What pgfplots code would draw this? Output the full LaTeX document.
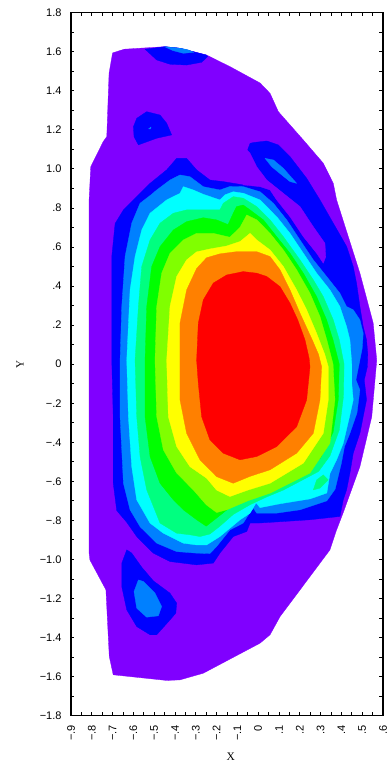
\documentclass[border=0pt]{standalone}
\usepackage{fontspec}
\setmainfont{Liberation Sans}
\newfontfamily\seriffont{Liberation Serif}
\usepackage{pgfplots}
\pgfplotsset{compat=1.18}
\definecolor{cPur}{RGB}{128,0,255}
\definecolor{cBlu}{RGB}{0,0,255}
\definecolor{cLbl}{RGB}{0,128,255}
\definecolor{cCya}{RGB}{0,255,255}
\definecolor{cSpr}{RGB}{0,255,128}
\definecolor{cGrn}{RGB}{0,255,0}
\definecolor{cCha}{RGB}{128,255,0}
\definecolor{cYel}{RGB}{255,255,0}
\definecolor{cOra}{RGB}{255,128,0}
\definecolor{cRed}{RGB}{255,0,0}
\pgfplotsset{cont/.style={draw=#1, line width=0.3pt, fill=#1, mark=none, line join=round}}
\begin{document}
\begin{tikzpicture}
\useasboundingbox (0,0) rectangle (388pt,764pt);
\begin{axis}[
  at={(71pt,48.4pt)}, anchor=south west,
  scale only axis, width=312pt, height=702.9pt,
  xmin=-0.9, xmax=0.6, ymin=-1.8, ymax=1.8,
  axis on top,
  axis line style={line width=1.1pt, black},
  tick align=inside,
  major tick length=3.5pt, minor tick length=3.5pt,
  every tick/.style={black, line width=0.8pt},
  xtick={-0.9,-0.8,-0.7,-0.6,-0.5,-0.4,-0.3,-0.2,-0.1,0,0.1,0.2,0.3,0.4,0.5,0.6},
  xticklabels={−.9,−.8,−.7,−.6,−.5,−.4,−.3,−.2,−.1,0,.1,.2,.3,.4,.5,.6},
  minor x tick num=1,
  ytick={-1.8,-1.6,-1.4,-1.2,-1.0,-0.8,-0.6,-0.4,-0.2,0,0.2,0.4,0.6,0.8,1.0,1.2,1.4,1.6,1.8},
  yticklabels={−1.8,−1.6,−1.4,−1.2,−1.0,−.8,−.6,−.4,−.2,0,.2,.4,.6,.8,1.0,1.2,1.4,1.6,1.8},
  minor y tick num=1,
  xticklabel style={font=\fontsize{11}{12}\selectfont, rotate=90, anchor=east},
  yticklabel style={font=\fontsize{11}{12}\selectfont},
  xticklabel shift=6pt, yticklabel shift=6pt,
  xlabel={X}, ylabel={Y},
  xlabel style={font=\seriffont\fontsize{11.5}{12}\selectfont, at={(axis description cs:0.512,-0.0589)}, anchor=center},
  ylabel style={font=\seriffont\fontsize{11}{12}\selectfont, at={(axis description cs:-0.163,0.5)}, anchor=center},
]
% outer purple region
\addplot[cont=cPur] coordinates {
(-0.70,1.594) (-0.644,1.613) (-0.448,1.626) (-0.376,1.618) (-0.248,1.583) (-0.136,1.524) (0.009,1.44) (0.057,1.387) (0.097,1.293) (0.217,1.148) (0.313,1.029) (0.361,0.926) (0.377,0.841) (0.489,0.466) (0.553,0.21) (0.57,0.02) (0.546,-0.269) (0.489,-0.525) (0.409,-0.76) (0.377,-0.849) (0.345,-0.951) (0.249,-1.088) (0.105,-1.293) (0.057,-1.386) (0.009,-1.429) (-0.264,-1.583) (-0.376,-1.617) (-0.44,-1.62) (-0.697,-1.591) (-0.716,-1.497) (-0.732,-1.156) (-0.809,-1.003) (-0.813,-0.968) (-0.813,0.841) (-0.805,1.011) (-0.745,1.14) (-0.728,1.165) (-0.717,1.49)
} -- cycle;
% blue main band with the upper right arm
\addplot[cont=cBlu] coordinates {
(-0.68,-0.75) (-0.697,-0.61) (-0.697,-0.27) (-0.704,0.02) (-0.704,0.55) (-0.688,0.72) (-0.648,0.79) (-0.584,0.858) (-0.52,0.926) (-0.44,0.995) (-0.392,1.054) (-0.344,1.054) (-0.296,0.995) (-0.232,0.943) (-0.168,0.935) (-0.072,0.918)
(-0.05,1.10) (-0.039,1.131) (-0.023,1.135) (0.041,1.143) (0.097,1.123) (0.153,1.063) (0.233,0.952) (0.297,0.841) (0.361,0.722) (0.425,0.603) (0.457,0.5) (0.473,0.414) (0.489,0.295) (0.505,0.192) (0.521,0.124) (0.527,0.05) (0.525,-0.013) (0.51,-0.081) (0.521,-0.183) (0.489,-0.354) (0.457,-0.456) (0.441,-0.558) (0.425,-0.644) (0.409,-0.695) (0.393,-0.78) (0.249,-0.797) (0.121,-0.806) (0.001,-0.814) (-0.039,-0.814) (-0.055,-0.857) (-0.12,-0.883) (-0.184,-0.968) (-0.216,-1.019) (-0.296,-1.028) (-0.424,-1.011) (-0.504,-0.968) (-0.584,-0.883) (-0.632,-0.81)
} -- cycle;
% blue blob at the top
\addplot[cont=cBlu] coordinates {
(-0.544,1.613) (-0.488,1.558) (-0.424,1.536) (-0.344,1.532) (-0.272,1.546) (-0.243,1.575) (-0.248,1.583) (-0.376,1.618) (-0.448,1.626)
} -- cycle;
% blue blob upper left
\addplot[cont=cBlu] coordinates {
(-0.6,1.216) (-0.584,1.259) (-0.536,1.293) (-0.472,1.276) (-0.44,1.234) (-0.416,1.174) (-0.488,1.157) (-0.576,1.123) (-0.597,1.165)
} -- cycle;
% blue blob lower left
\addplot[cont=cBlu] coordinates {
(-0.632,-0.951) (-0.608,-0.968) (-0.56,-1.04) (-0.504,-1.11) (-0.424,-1.173) (-0.392,-1.224) (-0.396,-1.275) (-0.424,-1.31) (-0.488,-1.386) (-0.52,-1.386) (-0.584,-1.344) (-0.632,-1.258) (-0.656,-1.139) (-0.656,-1.02)
} -- cycle;
% purple intrusion between the arm and the main band
\addplot[cont=cPur] coordinates {
(-0.085,0.96) (-0.065,1.11) (-0.039,1.08) (-0.007,1.011) (0.041,0.943) (0.121,0.875) (0.201,0.807) (0.265,0.704) (0.321,0.619) (0.325,0.55) (0.313,0.517) (0.281,0.568) (0.217,0.653) (0.153,0.755) (0.089,0.841) (0.057,0.892) (0.009,0.909) (-0.072,0.918)
} -- cycle;
% light blue spots
\addplot[cont=cLbl] coordinates {
(-0.45,1.626) (-0.41,1.606) (-0.36,1.592) (-0.31,1.597) (-0.34,1.611) (-0.376,1.618)
} -- cycle;
\addplot[cont=cLbl] coordinates {
(-0.527,1.205) (-0.515,1.215) (-0.517,1.205)
} -- cycle;
\addplot[cont=cLbl] coordinates {
(-0.576,-1.105) (-0.552,-1.113) (-0.496,-1.173) (-0.464,-1.241) (-0.48,-1.289) (-0.536,-1.296) (-0.584,-1.25) (-0.597,-1.165)
} -- cycle;
\addplot[cont=cLbl] coordinates {
(0.033,1.054) (0.073,1.046) (0.121,1.003) (0.185,0.926) (0.153,0.935) (0.113,0.969) (0.065,1.011)
} -- cycle;
% light blue main
\addplot[cont=cLbl] coordinates {
(-0.664,0.02) (-0.656,0.295) (-0.64,0.551) (-0.608,0.722) (-0.568,0.824) (-0.512,0.87) (-0.488,0.892) (-0.424,0.943) (-0.376,0.969) (-0.328,0.96) (-0.264,0.909) (-0.184,0.892) (-0.136,0.91) (-0.072,0.909) (0.009,0.883) (0.073,0.824) (0.137,0.739) (0.201,0.636) (0.265,0.534) (0.329,0.449) (0.393,0.363) (0.425,0.295) (0.457,0.278) (0.489,0.227) (0.505,0.158) (0.50,0.08) (0.485,0.0) (0.47,-0.081) (0.489,-0.132) (0.475,-0.25) (0.441,-0.354) (0.415,-0.422) (0.40,-0.507) (0.37,-0.64) (0.33,-0.70) (0.201,-0.746) (0.089,-0.763) (-0.007,-0.763) (-0.023,-0.738) (-0.04,-0.76) (-0.072,-0.814) (-0.136,-0.849) (-0.2,-0.934) (-0.232,-0.97) (-0.296,-0.968) (-0.392,-0.96) (-0.488,-0.917) (-0.568,-0.832) (-0.616,-0.746) (-0.648,-0.61) (-0.664,-0.269)
} -- cycle;
% cyan
\addplot[cont=cCya] coordinates {
(-0.632,0.02) (-0.616,0.38) (-0.592,0.551) (-0.56,0.687) (-0.52,0.773) (-0.44,0.841) (-0.376,0.875) (-0.36,0.909) (-0.312,0.892) (-0.264,0.87) (-0.184,0.841) (-0.16,0.867) (-0.12,0.883) (-0.07,0.875) (0.009,0.841) (0.089,0.755) (0.153,0.67) (0.217,0.568) (0.281,0.466) (0.345,0.38) (0.393,0.295) (0.425,0.192) (0.441,0.124) (0.45,0.0) (0.45,-0.1) (0.457,-0.183) (0.441,-0.26) (0.409,-0.405) (0.377,-0.49) (0.345,-0.56) (0.33,-0.66) (0.25,-0.69) (0.105,-0.715) (0.009,-0.735) (-0.01,-0.71) (-0.039,-0.763) (-0.087,-0.797) (-0.184,-0.883) (-0.248,-0.926) (-0.296,-0.926) (-0.36,-0.917) (-0.456,-0.866) (-0.52,-0.814) (-0.584,-0.695) (-0.608,-0.525) (-0.624,-0.269)
} -- cycle;
% spring green spot, lower right
\addplot[cont=cSpr] coordinates {
(0.281,-0.593) (0.313,-0.567) (0.337,-0.593) (0.297,-0.635) (0.265,-0.644)
} -- cycle;
% spring green
\addplot[cont=cSpr] coordinates {
(-0.592,0.02) (-0.576,0.295) (-0.56,0.5) (-0.52,0.636) (-0.472,0.722) (-0.408,0.773) (-0.344,0.79) (-0.232,0.79) (-0.184,0.79) (-0.168,0.824) (-0.12,0.858) (-0.072,0.85) (-0.007,0.807) (0.057,0.739) (0.121,0.653) (0.201,0.534) (0.265,0.432) (0.313,0.346) (0.361,0.227) (0.39,0.124) (0.413,0.0) (0.41,-0.166) (0.39,-0.337) (0.345,-0.47) (0.29,-0.55) (0.201,-0.60) (0.121,-0.645) (0.041,-0.68) (-0.039,-0.72) (-0.12,-0.77) (-0.184,-0.83) (-0.232,-0.87) (-0.28,-0.883) (-0.328,-0.874) (-0.392,-0.866) (-0.472,-0.814) (-0.536,-0.644) (-0.568,-0.473) (-0.584,-0.269)
} -- cycle;
% green
\addplot[cont=cGrn] coordinates {
(-0.544,0.02) (-0.536,0.295) (-0.512,0.5) (-0.472,0.602) (-0.408,0.687) (-0.344,0.73) (-0.264,0.75) (-0.2,0.739) (-0.145,0.715) (-0.12,0.773) (-0.104,0.807) (-0.072,0.815) (-0.039,0.79) (0.025,0.739) (0.089,0.653) (0.153,0.568) (0.217,0.466) (0.281,0.346) (0.329,0.227) (0.36,0.124) (0.39,0.0) (0.385,-0.183) (0.36,-0.35) (0.30,-0.48) (0.233,-0.54) (0.137,-0.59) (0.041,-0.64) (-0.039,-0.68) (-0.12,-0.72) (-0.184,-0.775) (-0.25,-0.83) (-0.296,-0.797) (-0.36,-0.746) (-0.408,-0.695) (-0.472,-0.61) (-0.52,-0.473) (-0.544,-0.269)
} -- cycle;
% chartreuse
\addplot[cont=cCha] coordinates {
(-0.496,0.02) (-0.488,0.295) (-0.464,0.466) (-0.424,0.568) (-0.36,0.636) (-0.296,0.67) (-0.216,0.67) (-0.136,0.65) (-0.088,0.70) (-0.055,0.764) (-0.007,0.739) (0.057,0.67) (0.121,0.585) (0.185,0.483) (0.249,0.363) (0.297,0.244) (0.33,0.124) (0.36,0.0) (0.369,-0.183) (0.345,-0.405) (0.249,-0.558) (0.057,-0.661) (-0.05,-0.70) (-0.151,-0.746) (-0.2,-0.76) (-0.25,-0.72) (-0.312,-0.644) (-0.392,-0.558) (-0.456,-0.439) (-0.488,-0.269)
} -- cycle;
% yellow
\addplot[cont=cYel] coordinates {
(-0.44,0.02) (-0.424,0.295) (-0.392,0.449) (-0.344,0.534) (-0.296,0.575) (-0.232,0.59) (-0.152,0.605) (-0.087,0.628) (-0.039,0.67) (-0.007,0.636) (0.057,0.585) (0.121,0.5) (0.185,0.38) (0.233,0.278) (0.28,0.16) (0.32,0.05) (0.337,-0.013) (0.337,-0.183) (0.313,-0.354) (0.217,-0.507) (0.057,-0.61) (-0.05,-0.645) (-0.136,-0.678) (-0.2,-0.645) (-0.248,-0.584) (-0.328,-0.525) (-0.392,-0.422) (-0.432,-0.269)
} -- cycle;
% orange
\addplot[cont=cOra] coordinates {
(-0.376,0.02) (-0.376,0.21) (-0.344,0.38) (-0.296,0.49) (-0.248,0.545) (-0.184,0.565) (-0.104,0.576) (-0.007,0.576) (0.057,0.551) (0.105,0.483) (0.153,0.38) (0.201,0.261) (0.26,0.124) (0.29,0.05) (0.305,-0.013) (0.297,-0.183) (0.265,-0.354) (0.185,-0.456) (0.057,-0.541) (-0.04,-0.575) (-0.12,-0.61) (-0.2,-0.576) (-0.28,-0.49) (-0.344,-0.354) (-0.376,-0.183)
} -- cycle;
% red
\addplot[cont=cRed] coordinates {
(-0.296,0.02) (-0.288,0.21) (-0.264,0.329) (-0.216,0.415) (-0.151,0.457) (-0.072,0.474) (-0.007,0.466) (0.041,0.449) (0.105,0.397) (0.153,0.312) (0.19,0.227) (0.225,0.124) (0.245,0.03) (0.249,-0.013) (0.233,-0.183) (0.185,-0.32) (0.089,-0.422) (-0.007,-0.473) (-0.087,-0.49) (-0.168,-0.456) (-0.232,-0.388) (-0.272,-0.269) (-0.288,-0.098)
} -- cycle;
\end{axis}
\end{tikzpicture}
\end{document}
